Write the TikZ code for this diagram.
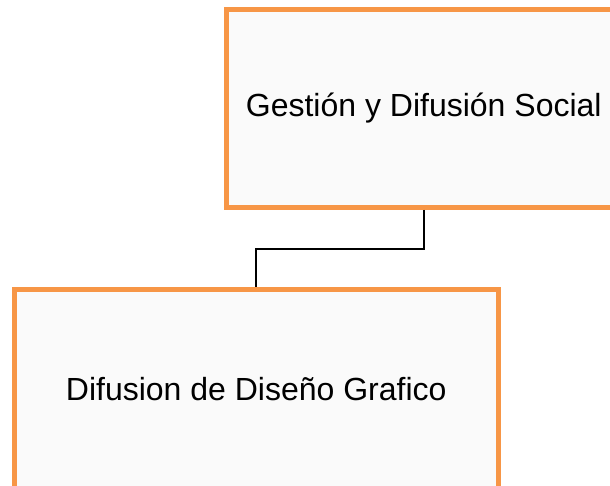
\documentclass[tikz,border=0pt]{standalone}
\usepackage{fontspec}
\setmainfont{Liberation Sans}
\usetikzlibrary{arrows}
\usepackage{xcolor}
\definecolor{boxorange}{HTML}{F79646}
\definecolor{boxfill}{HTML}{FAFAFA}

\begin{document}
\begin{tikzpicture}[thick,node distance=280.25pt,
main node/.style={rectangle,fill=boxfill,draw=boxorange,line width=5pt,font=\fontsize{32}{38}\selectfont}]

\useasboundingbox (0,0) rectangle (610pt,-486pt);

\node[main node,minimum width=394.5pt,minimum height=198pt] (1) at (423.75pt,-108.5pt) {Gestión y Difusión Social};
\node[main node,minimum width=483.5pt,minimum height=198.5pt] (2) [below of=1,xshift=-167.5pt] {Difusion de Diseño Grafico};

\draw[line width=2.2pt] (1.south) -- ++(0,-39pt) -| (2.north);
\end{tikzpicture}
\end{document}
